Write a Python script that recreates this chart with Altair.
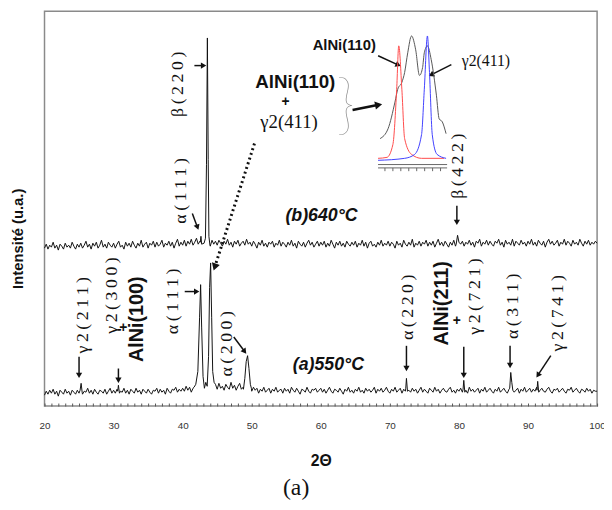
import math
import altair as alt
import pandas as pd

# ---------------- data ----------------
grid_start, grid_step = 20.0, 0.25

# (b) 640°C trace, baseline readings every 0.25° from 20 to 100
b_vals = [160,164,159,163,161,166,160,163,158,164,162,159,165,161,163,160,166,162,159,164,
          161,165,160,163,167,161,164,159,165,162,166,160,163,168,161,164,160,166,163,161,
          165,160,164,167,161,163,159,166,162,165,161,167,163,160,165,162,168,161,164,166,
          160,165,163,167,161,166,162,164,168,161,165,163,167,162,166,160,165,169,162,166,
          163,168,162,167,164,169,163,166,170,164,167,165,169,166,163,166,162,168,164,167,
          163,168,165,162,167,164,169,163,166,161,167,164,168,162,165,167,163,169,164,166,
          162,167,164,160,166,163,168,162,165,161,166,164,167,161,165,163,168,162,166,164,
          161,166,163,168,162,165,160,167,164,162,166,161,165,168,163,166,161,164,167,162,
          166,163,167,161,165,162,168,164,160,166,163,167,162,165,161,167,164,162,166,163,
          167,161,165,163,168,162,166,160,165,167,162,164,161,166,163,168,162,165,163,167,
          162,166,164,160,167,163,165,161,168,164,162,166,163,169,161,165,163,167,162,166,
          164,168,162,166,163,167,161,165,169,163,166,162,167,164,161,166,163,168,162,166,
          169,164,167,162,166,164,168,163,166,161,167,165,169,162,166,164,168,163,167,164,
          162,167,165,169,163,166,161,168,164,166,163,169,162,167,165,163,168,164,166,162,
          167,164,169,163,166,162,168,165,163,167,161,166,169,164,167,163,165,168,162,166,
          164,169,163,167,165,162,168,164,166,163,169,165,162,167,164,168,163,166,164,167,
          165]
b_peaks = [
    ([42.55, 42.65, 42.75, 43.1, 43.3, 43.45, 43.58, 43.7, 43.8, 43.95],
     [166, 172, 164, 165, 170, 245, 373, 250, 172, 163]),
    ([79.6, 79.8, 80.0], [164, 173, 166]),
]

# (a) 550°C trace
a_vals = [11,15,12,16,13,17,12,15,10,16,14,12,17,13,15,11,16,14,12,16,
          13,17,12,15,14,18,13,16,12,17,14,12,16,15,13,17,12,15,18,13,
          16,13,17,12,15,14,18,13,16,12,17,15,13,18,14,16,12,17,15,13,
          17,14,12,16,15,18,13,17,14,16,12,18,15,13,17,16,19,14,17,15,
          18,15,20,16,19,14,18,17,21,16,19,17,22,18,20,17,21,16,19,22,
          17,23,18,20,16,22,19,17,24,18,21,16,20,23,17,19,22,18,20,17,
          15,19,16,18,13,17,15,19,14,16,18,13,17,15,19,14,16,17,13,18,
          15,17,13,19,16,14,18,15,12,17,16,14,19,15,13,17,16,18,14,16,
          18,14,17,13,16,19,15,13,17,16,14,18,15,12,17,15,19,14,16,13,
          17,15,19,14,16,13,18,15,17,14,16,19,13,17,15,18,14,16,19,15,
          13,17,15,19,14,16,18,13,17,15,19,16,14,18,15,17,13,16,19,14,
          17,15,13,18,16,14,19,15,17,13,16,18,15,14,17,19,14,16,13,17,
          15,18,14,17,16,13,19,15,17,14,16,18,13,17,15,19,14,16,18,15,
          13,17,15,19,14,16,18,15,13,17,16,19,14,16,18,13,17,15,19,14,
          16,18,14,17,15,19,13,16,18,15,14,17,19,15,13,17,16,18,14,16,
          18,15,13,17,16,19,14,16,18,15,13,17,16,14,18,15,17,13,16,15,
          15]
a_peaks = [
    ([25.15, 25.3, 25.45], [16, 23, 14]),
    ([30.6, 30.7, 30.85], [15, 21, 13]),
    ([41.65, 41.9, 42.2, 42.45, 42.6, 42.75, 42.95, 43.15, 43.35, 43.55, 43.75, 43.9, 44.05, 44.2, 44.35, 44.55],
     [19, 22, 35, 90, 123, 80, 30, 18, 24, 20, 50, 120, 145, 90, 35, 24]),
    ([48.8, 49.0, 49.2, 49.4, 49.6, 49.8, 49.95], [17, 28, 45, 51, 38, 22, 18]),
    ([72.3, 72.4, 72.55], [18, 28, 15]),
    ([80.6, 80.7, 80.85], [17, 26, 14]),
    ([87.35, 87.5, 87.65, 87.8], [18, 34, 24, 16]),
    ([91.3, 91.4, 91.55], [16, 25, 14]),
]

# inset (zoom on the 43-45° doublet)
inset_gray_x = [43.06, 43.29, 43.49, 43.57, 43.69, 43.77, 43.86, 43.97, 44.09, 44.2, 44.29, 44.34, 44.43, 44.54, 44.69, 44.77, 44.86, 44.97]
inset_gray_y = [28, 38, 65, 78, 85, 95, 115, 132, 118, 92, 100, 115, 122, 108, 72, 48, 45, 33]
inset_red_x = [43.0, 43.26, 43.43, 43.54, 43.6, 43.69, 43.77, 43.97, 44.26, 44.91]
inset_red_y = [8, 9, 22, 78, 122, 78, 28, 12, 8, 8]
inset_blue_x = [43.0, 43.77, 44.06, 44.26, 44.34, 44.43, 44.49, 44.57, 44.71, 44.97]
inset_blue_y = [6, 8, 12, 32, 78, 132, 95, 32, 12, 8]
inset_ticks = [43.2, 43.43, 43.66, 43.89, 44.12, 44.35, 44.58, 44.81]


def spaced(s):
    return "\u2009".join(s)


serif_rot = [("β(220)", 39.3, 326), ("α(111)", 39.7, 218), ("β(422)", 79.9, 243),
             ("γ2(211)", 25.6, 92), ("γ2(300)", 29.8, 112), ("α(111)", 38.6, 106),
             ("α(200)", 46.4, 63), ("α(220)", 72.7, 100), ("γ2(721)", 82.3, 111),
             ("α(311)", 87.9, 101), ("γ2(741)", 94.3, 94)]
bold_rot = [("AlNi(100)", 33.4, 88), ("AlNi(211)", 77.6, 104)]
plus_signs = [("+", 54.9, 308), ("+", 31.4, 79), ("+", 79.7, 86)]
bold_h = [("AlNi(110)", 56.3, 328, 19), ("AlNi(110)", 63.4, 366, 15)]
serif_h = [("γ2(411)", 55.4, 288, 19), ("γ2(411)", 83.9, 350, 16)]
italic_labels = [("(b)640°C", 60.1, 193), ("(a)550°C", 61.1, 41)]
brace = [("}", 63.6, 303)]

arrows = [
    (41.7, 345, 42.9, 345, 1.5), (41.4, 195, 42.1, 182, 1.5), (79.7, 203, 79.7, 187, 1.5),
    (64.6, 300, 68.2, 305, 2.5), (68.3, 355, 71.1, 346, 1.5), (78.9, 346, 76.1, 336, 1.5),
    (25.0, 50, 25.0, 32, 1.5), (30.7, 38, 30.7, 27, 1.5), (40.3, 116, 41.9, 116, 1.5),
    (47.4, 70, 48.9, 56, 1.5), (72.4, 61, 72.4, 39, 1.5), (80.7, 60, 80.7, 32, 1.5),
    (87.4, 61, 87.4, 42, 1.5), (93.3, 51, 91.5, 32, 1.5),
]
dotted = [(50.4, 266, 44.7, 142)]

# ---------------- assemble ----------------
def build(vals, peaks):
    xs = [grid_start + grid_step * i for i in range(len(vals))]
    pts = list(zip(xs, vals))
    for px, py in peaks:
        lo, hi = min(px), max(px)
        pts = [p for p in pts if not (lo <= p[0] <= hi)]
        pts += list(zip(px, py))
    pts.sort()
    return pd.DataFrame(pts, columns=["x", "y"])

df_b = build(b_vals, b_peaks)
df_a = build(a_vals, a_peaks)

PXX, PXY = 7.0, 1.0
def heading(x1, y1, x2, y2):
    dx = (x2 - x1) * PXX
    dy = -(y2 - y1) * PXY
    return math.degrees(math.atan2(dx, -dy)) % 360

df_arrows = pd.DataFrame([dict(x=a[0], y=a[1], x2=a[2], y2=a[3], w=a[4]) for a in arrows])
df_heads = pd.DataFrame([dict(x=a[2], y=a[3], ang=heading(*a[:4]), s=(70 if a[4] > 2 else 40)) for a in arrows]
                        + [dict(x=d[2], y=d[3], ang=heading(*d), s=70) for d in dotted])
df_dotted = pd.DataFrame([dict(x=d[0], y=d[1], x2=d[2], y2=d[3]) for d in dotted])

SANS = "Liberation Sans"
SERIF = "Liberation Serif"

xscale = alt.Scale(domain=[20, 100], nice=False, zero=False)
yscale = alt.Scale(domain=[0, 400], nice=False, zero=False)
xaxis = alt.Axis(values=list(range(20, 101)),
                 labelExpr="datum.value % 10 === 0 ? datum.label : ''",
                 labelOverlap=False, labelFlush=False, tickSize=3, offset=-3,
                 domain=False, grid=False, labelFont=SANS, labelFontSize=10,
                 labelColor="#333", labelPadding=15, tickColor="#555",
                 title="2Θ", titleFont=SANS, titleFontSize=16, titleFontWeight="bold",
                 titlePadding=22, titleColor="#111")
yaxis = alt.Axis(labels=False, ticks=False, domain=False, grid=False,
                 title="Intensité (u.a.)", titleFont=SANS, titleFontSize=15,
                 titleFontWeight="bold", titleColor="#111", titleX=-19, titleY=230,
                 titleAngle=270, titleBaseline="bottom", titleAlign="center")

def X(f="x"):
    return alt.X(f"{f}:Q", scale=xscale, axis=xaxis)

def Y(f="y"):
    return alt.Y(f"{f}:Q", scale=yscale, axis=yaxis)

line_b = alt.Chart(df_b).mark_line(color="#111", strokeWidth=1).encode(x=X(), y=Y(), order="x:Q")
line_a = alt.Chart(df_a).mark_line(color="#111", strokeWidth=1).encode(x=X(), y=Y(), order="x:Q")

shafts = alt.Chart(df_arrows).mark_rule(color="#111").encode(
    x=X(), y=Y(), x2="x2:Q", y2="y2:Q", strokeWidth=alt.StrokeWidth("w:Q", scale=None))
dots = alt.Chart(df_dotted).mark_rule(color="#111", strokeWidth=3, strokeDash=[2, 3]).encode(
    x=X(), y=Y(), x2="x2:Q", y2="y2:Q")
heads = alt.Chart(df_heads).mark_point(shape="triangle", filled=True, color="#111", opacity=1).encode(
    x=X(), y=Y(), angle=alt.Angle("ang:Q", scale=None), size=alt.Size("s:Q", scale=None))

def text_layer(rows, **kw):
    df = pd.DataFrame(rows)
    return alt.Chart(df).mark_text(**kw).encode(x=X(), y=Y(), text="t:N")

t_serif_rot = text_layer([dict(t=spaced(r[0]), x=r[1], y=r[2]) for r in serif_rot],
                         font=SERIF, fontSize=18, angle=270, color="#111")
t_bold_rot = text_layer([dict(t=r[0], x=r[1], y=r[2]) for r in bold_rot],
                        font=SANS, fontSize=20, fontWeight="bold", angle=270, color="#111")
t_plus = text_layer([dict(t=r[0], x=r[1], y=r[2]) for r in plus_signs],
                    font=SANS, fontSize=14, fontWeight="bold", color="#111")
t_bold_h = alt.Chart(pd.DataFrame([dict(t=r[0], x=r[1], y=r[2], fs=r[3]) for r in bold_h])).mark_text(
    font=SANS, fontWeight="bold", color="#111").encode(x=X(), y=Y(), text="t:N",
                                                      size=alt.Size("fs:Q", scale=None))
t_serif_h = alt.Chart(pd.DataFrame([dict(t=r[0], x=r[1], y=r[2], fs=r[3]) for r in serif_h])).mark_text(
    font=SERIF, color="#111").encode(x=X(), y=Y(), text="t:N", size=alt.Size("fs:Q", scale=None))
t_italic = text_layer([dict(t=r[0], x=r[1], y=r[2]) for r in italic_labels],
                      font=SANS, fontSize=18, fontWeight="bold", fontStyle="italic", color="#111")
t_brace = text_layer([dict(t=r[0], x=r[1], y=r[2]) for r in brace],
                     font="Lato", fontWeight=100, fontSize=66, color="#8c8c8c")

main = alt.layer(line_b, line_a, dots, shafts, heads, t_serif_rot, t_bold_rot, t_plus,
                 t_bold_h, t_serif_h, t_italic, t_brace)

# ---------------- inset ----------------
ixs = alt.Scale(domain=[43.0, 45.0], range=[338, 408], nice=False, zero=False)
iys = alt.Scale(domain=[0, 132], range=[157, 25], nice=False, zero=False)

def IX(f="x"):
    return alt.X(f"{f}:Q", scale=ixs, axis=None)

def IY(f="y"):
    return alt.Y(f"{f}:Q", scale=iys, axis=None)

df_inset = pd.concat([
    pd.DataFrame(dict(x=inset_gray_x, y=inset_gray_y, c="gray")),
    pd.DataFrame(dict(x=inset_red_x, y=inset_red_y, c="red")),
    pd.DataFrame(dict(x=inset_blue_x, y=inset_blue_y, c="blue")),
])
inset_lines = alt.Chart(df_inset).mark_line(strokeWidth=1, interpolate="monotone").encode(
    x=IX(), y=IY(), detail="c:N", order="x:Q",
    color=alt.Color("c:N", scale=alt.Scale(domain=["gray", "red", "blue"],
                                           range=["#555555", "#ff4a4a", "#4040ff"]), legend=None))
df_iaxis = pd.DataFrame(dict(x=[43.0, 43.0], x2=[45.0, 45.0], y=[1.7, -1.7]))
inset_axis = alt.Chart(df_iaxis).mark_rule(color="#666", strokeWidth=1).encode(
    x=IX(), x2="x2:Q", y=IY())
df_iticks = pd.DataFrame(dict(x=inset_ticks, y=[-1.7] * len(inset_ticks), y2=[-5.0] * len(inset_ticks)))
inset_tk = alt.Chart(df_iticks).mark_rule(color="#666", strokeWidth=1).encode(
    x=IX(), y=IY(), y2="y2:Q")
inset = alt.layer(inset_lines, inset_axis, inset_tk)

chart = alt.layer(main, inset).resolve_scale(x="independent", y="independent").properties(
    width=560, height=400,
    autosize=alt.AutoSizeParams(type="none"),
    padding={"left": 37, "top": 0, "right": 7, "bottom": 100},
    title=alt.TitleParams("(a)", orient="bottom", font=SERIF, fontSize=24, fontWeight="normal",
                          color="#111", dx=-25, offset=8, anchor="middle"),
).configure_view(stroke="#8a8a8a", strokeWidth=1.5)

chart.save("out.html", embed_options={"renderer": "svg", "actions": False})
